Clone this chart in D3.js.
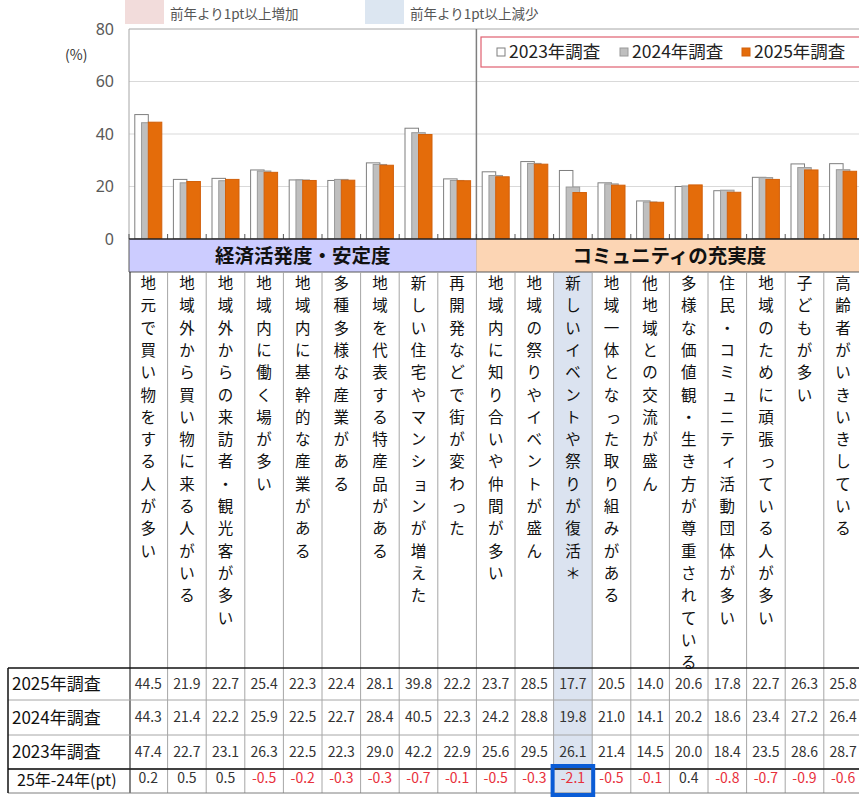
<!DOCTYPE html>
<html lang="ja">
<head>
<meta charset="utf-8">
<title>地域の評価</title>
<style>
  body { margin: 0; background: #fff; }
  svg { display: block; font-family: "Noto Sans CJK JP", "Noto Sans", sans-serif; }
</style>
</head>
<body>
<script src="https://cdnjs.cloudflare.com/ajax/libs/d3/7.8.5/d3.min.js"></script>
<div id="chart"></div>
<script>
// data
const categories = [
  "地元で買い物をする人が多い",
  "地域外から買い物に来る人がいる",
  "地域外からの来訪者・観光客が多い",
  "地域内に働く場が多い",
  "地域内に基幹的な産業がある",
  "多種多様な産業がある",
  "地域を代表する特産品がある",
  "新しい住宅やマンションが増えた",
  "再開発などで街が変わった",
  "地域内に知り合いや仲間が多い",
  "地域の祭りやイベントが盛ん",
  "新しいイベントや祭りが復活＊",
  "地域一体となった取り組みがある",
  "他地域との交流が盛ん",
  "多様な価値観・生き方が尊重されている",
  "住民・コミュニティ活動団体が多い",
  "地域のために頑張っている人が多い",
  "子どもが多い",
  "高齢者がいきいきしている"
];
const groups = ["経済活発度・安定度", "コミュニティの充実度"];
const groupSizes = [9, 10];
const series = ["2023年調査", "2024年調査", "2025年調査"];
const v2023 = [47.4, 22.7, 23.1, 26.3, 22.5, 22.3, 29.0, 42.2, 22.9, 25.6, 29.5, 26.1, 21.4, 14.5, 20.0, 18.4, 23.5, 28.6, 28.7];
const v2024 = [44.3, 21.4, 22.2, 25.9, 22.5, 22.7, 28.4, 40.5, 22.3, 24.2, 28.8, 19.8, 21.0, 14.1, 20.2, 18.6, 23.4, 27.2, 26.4];
const v2025 = [44.5, 21.9, 22.7, 25.4, 22.3, 22.4, 28.1, 39.8, 22.2, 23.7, 28.5, 17.7, 20.5, 14.0, 20.6, 17.8, 22.7, 26.3, 25.8];
const diff  = [0.2, 0.5, 0.5, -0.5, -0.2, -0.3, -0.3, -0.7, -0.1, -0.5, -0.3, -2.1, -0.5, -0.1, 0.4, -0.8, -0.7, -0.9, -0.6];
const yTicks = [0, 20, 40, 60, 80];
const noteLabels = ["前年より1pt以上増加", "前年より1pt以上減少"];

const width = 859, height = 798;
const colW = 38.6, left = 129;
const colors = { "2023年調査": "#ffffff", "2024年調査": "#bfbfbf", "2025年調査": "#e46c0a" };
const strokes = { "2023年調査": "#7f7f7f", "2024年調査": "#9a9a9a", "2025年調査": "#d2600a" };
const valuesBySeries = { "2023年調査": v2023, "2024年調査": v2024, "2025年調査": v2025 };

const svg = d3.select("#chart").append("svg")
  .attr("width", width)
  .attr("height", height);

const x = d3.scaleBand()
  .domain(categories)
  .range([left, left + categories.length * colW]);

const y = d3.scaleLinear()
  .domain([0, 80])
  .range([239, 29]);

const barW = 13.5;
const xSub = d3.scalePoint()
  .domain(series)
  .range([-barW, 0]);

// top notes (pink / blue swatches)
const noteColors = ["#f2dcdb", "#dce6f1"];
const noteX = [125, 365];
noteLabels.forEach((t, i) => {
  svg.append("rect")
    .attr("x", noteX[i]).attr("y", 0)
    .attr("width", 39).attr("height", 24)
    .attr("fill", noteColors[i]);
  svg.append("text")
    .attr("x", noteX[i] + 45).attr("y", 19)
    .attr("font-size", 13.5)
    .attr("fill", "#555")
    .text(t);
});

// gridlines
svg.append("g")
  .selectAll("line")
  .data(yTicks.filter(d => d > 0 && d < 80))
  .enter().append("line")
  .attr("x1", left).attr("x2", width)
  .attr("y1", d => y(d)).attr("y2", d => y(d))
  .attr("stroke", "#d9d9d9");

// frame
svg.append("line")
  .attr("x1", left).attr("x2", width)
  .attr("y1", y(80)).attr("y2", y(80))
  .attr("stroke", "#a6a6a6");
svg.append("line")
  .attr("x1", left).attr("x2", left)
  .attr("y1", y(80)).attr("y2", y(0))
  .attr("stroke", "#a6a6a6");

// y axis labels
const yAxis = d3.axisLeft(y).tickValues(yTicks).tickSize(0).tickPadding(0);
const yg = svg.append("g")
  .attr("transform", "translate(114,0)")
  .call(yAxis);
yg.select(".domain").remove();
yg.selectAll("text")
  .attr("font-size", 16)
  .attr("fill", "#595959")
  .attr("font-family", "'Noto Sans', sans-serif");
svg.append("text")
  .attr("x", 65).attr("y", 60)
  .attr("font-size", 14)
  .attr("fill", "#333")
  .text("(%)");

// group divider
const divX = x(categories[groupSizes[0]]);
svg.append("line")
  .attr("x1", divX).attr("x2", divX)
  .attr("y1", y(80)).attr("y2", 272)
  .attr("stroke", "#7f7f7f")
  .attr("stroke-width", 1.5);

// bars
series.forEach(s => {
  svg.append("g")
    .selectAll("rect")
    .data(categories)
    .enter().append("rect")
    .attr("x", d => x(d) + x.bandwidth() / 2 + xSub(s))
    .attr("y", (d, i) => y(valuesBySeries[s][i]))
    .attr("width", barW)
    .attr("height", (d, i) => y(0) - y(valuesBySeries[s][i]))
    .attr("fill", colors[s])
    .attr("stroke", strokes[s])
    .attr("stroke-width", 1);
});

// baseline ticks
svg.append("g")
  .selectAll("line")
  .data(categories)
  .enter().append("line")
  .attr("x1", d => x(d)).attr("x2", d => x(d))
  .attr("y1", y(0) - 5).attr("y2", y(0))
  .attr("stroke", "#595959");

// legend box
const lg = svg.append("g");
lg.append("rect")
  .attr("x", 481).attr("y", 37)
  .attr("width", 385).attr("height", 30)
  .attr("fill", "#fff")
  .attr("stroke", "#e06070")
  .attr("stroke-width", 1.2);
const legX = [497, 620, 742];
series.forEach((s, i) => {
  lg.append("rect")
    .attr("x", legX[i]).attr("y", 48)
    .attr("width", 8).attr("height", 8)
    .attr("fill", colors[s])
    .attr("stroke", strokes[s]);
  lg.append("text")
    .attr("x", legX[i] + 12).attr("y", 58)
    .attr("font-size", 17.5)
    .attr("fill", "#222")
    .text(s);
});

// highlight column (1pt or more decrease / increase)
svg.append("g")
  .selectAll("rect")
  .data(categories.filter((d, i) => diff[i] <= -1))
  .enter().append("rect")
  .attr("x", d => x(d))
  .attr("y", 272)
  .attr("width", x.bandwidth())
  .attr("height", 793 - 272)
  .attr("fill", "#dbe3f0");
svg.append("g")
  .selectAll("rect")
  .data(categories.filter((d, i) => diff[i] >= 1))
  .enter().append("rect")
  .attr("x", d => x(d))
  .attr("y", 272)
  .attr("width", x.bandwidth())
  .attr("height", 793 - 272)
  .attr("fill", "#f2dcdb");

// group bands
const bandColors = ["#ccccff", "#fcd5b4"];
let start = 0;
groups.forEach((g, gi) => {
  const x0 = x(categories[start]);
  const x1 = x(categories[start + groupSizes[gi] - 1]) + x.bandwidth();
  svg.append("rect")
    .attr("x", x0).attr("y", 239)
    .attr("width", x1 - x0).attr("height", 33)
    .attr("fill", bandColors[gi]);
  svg.append("text")
    .attr("x", (x0 + x1) / 2).attr("y", 263)
    .attr("text-anchor", "middle")
    .attr("font-size", 19.5)
    .attr("font-weight", "bold")
    .attr("fill", "#111")
    .text(g);
  start += groupSizes[gi];
});
svg.append("line")
  .attr("x1", left).attr("x2", width)
  .attr("y1", 272).attr("y2", 272)
  .attr("stroke", "#595959");
svg.append("line")
  .attr("x1", left).attr("x2", width)
  .attr("y1", y(0)).attr("y2", y(0))
  .attr("stroke", "#222")
  .attr("stroke-width", 1.5);
svg.append("line")
  .attr("x1", left).attr("x2", left)
  .attr("y1", y(0)).attr("y2", 272)
  .attr("stroke", "#595959");

// column lines under bands
svg.append("g")
  .selectAll("line")
  .data(categories.slice(1))
  .enter().append("line")
  .attr("x1", d => x(d)).attr("x2", d => x(d))
  .attr("y1", 272).attr("y2", 793)
  .attr("stroke", "#a6a6a6");
svg.append("line")
  .attr("x1", 130).attr("x2", 130)
  .attr("y1", 272).attr("y2", 793)
  .attr("stroke", "#333")
  .attr("stroke-width", 1.2);

// vertical category labels
const smallKana = "っゃゅょぁぃぅぇぉッャュョァィゥェォ";
svg.append("g")
  .selectAll("g")
  .data(categories)
  .enter().append("g")
  .attr("transform", d => `translate(${x(d) + x.bandwidth() / 2},0)`)
  .selectAll("text")
  .data(d => Array.from(d))
  .enter().append("text")
  .attr("x", c => smallKana.includes(c) ? 2 : 0)
  .attr("y", (c, i) => 289 + i * 22.3)
  .attr("text-anchor", "middle")
  .attr("font-size", 15.5)
  .attr("fill", "#111")
  .text(c => c);

// table
const rows = [
  { label: "2025年調査", vals: v2025, top: 668, h: 32 },
  { label: "2024年調査", vals: v2024, top: 700, h: 35 },
  { label: "2023年調査", vals: v2023, top: 735, h: 34 }
];
const tg = svg.append("g");
rows.forEach(r => {
  tg.append("text")
    .attr("x", 12).attr("y", r.top + r.h / 2 + 6)
    .attr("font-size", 17)
    .attr("fill", "#111")
    .text(r.label);
  tg.selectAll(null)
    .data(categories)
    .enter().append("text")
    .attr("x", d => x(d) + x.bandwidth() / 2)
    .attr("y", r.top + r.h / 2 + 4.5)
    .attr("text-anchor", "middle")
    .attr("font-size", 14)
    .attr("fill", "#333")
    .text((d, i) => r.vals[i].toFixed(1));
  tg.append("line")
    .attr("x1", 8).attr("x2", width)
    .attr("y1", r.top + r.h).attr("y2", r.top + r.h)
    .attr("stroke", "#a6a6a6");
});
tg.append("text")
  .attr("x", 17).attr("y", 786)
  .attr("font-size", 16)
  .attr("fill", "#111")
  .text("25年-24年(pt)");
tg.selectAll(null)
  .data(categories)
  .enter().append("text")
  .attr("x", d => x(d) + x.bandwidth() / 2)
  .attr("y", 783)
  .attr("text-anchor", "middle")
  .attr("font-size", 14)
  .attr("fill", (d, i) => diff[i] < 0 ? "#e8303c" : "#333")
  .text((d, i) => diff[i].toFixed(1));

tg.append("line")
  .attr("x1", 8).attr("x2", width)
  .attr("y1", 668).attr("y2", 668)
  .attr("stroke", "#111").attr("stroke-width", 1.5);
tg.append("line")
  .attr("x1", 8).attr("x2", width)
  .attr("y1", 769).attr("y2", 769)
  .attr("stroke", "#111").attr("stroke-width", 1.5);
tg.append("line")
  .attr("x1", 8).attr("x2", width)
  .attr("y1", 793).attr("y2", 793)
  .attr("stroke", "#7f7f7f");
tg.append("line")
  .attr("x1", 8).attr("x2", 8)
  .attr("y1", 668).attr("y2", 793)
  .attr("stroke", "#111").attr("stroke-width", 1.5);

// blue box on the biggest drop
svg.append("g")
  .selectAll("rect")
  .data(categories.filter((d, i) => diff[i] <= -1))
  .enter().append("rect")
  .attr("x", d => x(d) - 1)
  .attr("y", 766)
  .attr("width", x.bandwidth() + 2)
  .attr("height", 29)
  .attr("fill", "none")
  .attr("stroke", "#0a5cd6")
  .attr("stroke-width", 4);
</script>
</body>
</html>
